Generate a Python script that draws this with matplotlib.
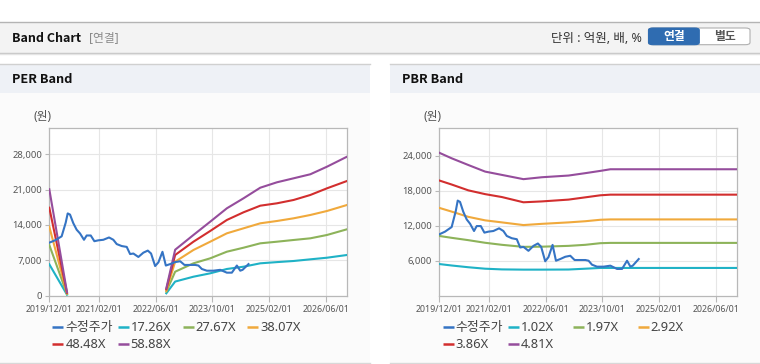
import numpy as np
import matplotlib
matplotlib.use("Agg")
import matplotlib.pyplot as plt
import matplotlib.dates as mdates
from matplotlib.patches import Rectangle, FancyBboxPatch
from matplotlib.lines import Line2D

plt.rcParams['font.family'] = ['Noto Sans', 'Noto Sans CJK KR', 'DejaVu Sans']
BOLD_FAM = ['Noto Sans CJK KR', 'DejaVu Sans']

# ---------------- data ----------------
price_dates = ["2019-12-01", "2020-01-19", "2020-03-16", "2020-04-20", "2020-05-07", "2020-05-27",
               "2020-06-24", "2020-07-23", "2020-08-21", "2020-09-24", "2020-10-17", "2020-11-21",
               "2020-12-22", "2021-01-25", "2021-03-09", "2021-04-27", "2021-06-03", "2021-07-02",
               "2021-08-14", "2021-09-26", "2021-10-25", "2021-11-22", "2022-01-04", "2022-02-16",
               "2022-03-26", "2022-04-23", "2022-05-28", "2022-06-25", "2022-07-30", "2022-08-28",
               "2022-10-04", "2022-11-16", "2022-12-29", "2023-02-04", "2023-03-25", "2023-05-07",
               "2023-06-04", "2023-07-03", "2023-08-15", "2023-10-11", "2023-12-08", "2024-02-03",
               "2024-03-17", "2024-04-29", "2024-05-28", "2024-06-17", "2024-08-07"]
price = [10500, 10960, 11750, 14470, 16290, 16060,
         14360, 13060, 12320, 11070, 11920, 11920,
         10790, 10960, 11070, 11530, 11070, 10220,
         9830, 9660, 8240, 8350, 7670, 8520,
         8930, 8350, 5870, 6600, 8690, 5970,
         6260, 6650, 6820, 6090, 6090, 6090,
         5970, 5290, 4950, 4950, 5120, 4560,
         4560, 5970, 4950, 5120, 6260]

per_dates = ["2019-12-01", "2020-05-01", "2021-06-01", "2022-09-01", "2022-11-16", "2023-04-22",
             "2023-09-13", "2024-02-03", "2024-06-25", "2024-11-16", "2025-04-08", "2025-08-29",
             "2026-01-20", "2026-06-12", "2026-12-01"]
per_labels = ["17.26X", "27.67X", "38.07X", "48.48X", "58.88X"]
per_1726 = [6220, 200, None, 470, 2800, 3760, 4430, 5290, 5740, 6410, 6650, 6870, 7200, 7520, 8060]
per_2767 = [10040, 330, None, 800, 4750, 6410, 7400, 8710, 9500, 10370, 10690, 11030, 11360, 12020, 13150]
per_3807 = [13660, 450, None, 1000, 6730, 9050, 10690, 12350, 13340, 14330, 14790, 15320, 15980, 16770, 17960]
per_4848 = [17420, 580, None, 1270, 8060, 10690, 12810, 14990, 16510, 17820, 18290, 18950, 19940, 21260, 22710]
per_5888 = [21070, 700, None, 1460, 9100, 12020, 14650, 17300, 19280, 21380, 22450, 23240, 24040, 25540, 27520]

pbr_dates = ["2019-12-01", "2020-03-16", "2020-08-06", "2020-12-28", "2021-05-21", "2021-11-22",
             "2022-04-29", "2022-12-14", "2023-05-07", "2023-09-13", "2023-12-08", "2026-12-01"]
pbr_labels = ["1.02X", "1.97X", "2.92X", "3.86X", "4.81X"]
pbr_102 = [5400, 5150, 4850, 4600, 4480, 4440, 4440, 4460, 4600, 4730, 4730, 4730]
pbr_197 = [10220, 9900, 9500, 9050, 8700, 8350, 8380, 8520, 8700, 8980, 9030, 9030]
pbr_292 = [15040, 14400, 13500, 12900, 12550, 12090, 12300, 12550, 12750, 13000, 13060, 13060]
pbr_386 = [19740, 19050, 18050, 17400, 16900, 16000, 16150, 16460, 16850, 17200, 17310, 17310]
pbr_481 = [24500, 23550, 22400, 21270, 20700, 19970, 20300, 20590, 21000, 21390, 21670, 21670]

xtick_dates = ["2019-12-01", "2021-02-01", "2022-06-01", "2023-10-01", "2025-02-01", "2026-06-01"]
x_range = ["2019-12-01", "2026-12-01"]
per_yticks = [0, 7000, 14000, 21000, 28000]
pbr_yticks = [6000, 12000, 18000, 24000]

price_label = "수정주가"
colors = ["#3574c4", "#1fb2c6", "#8db35a", "#f0a93c", "#d22e2e", "#954d9c"]

# ---------------- figure ----------------
W, H = 760, 364
fig = plt.figure(figsize=(W / 100, H / 100), dpi=100)
fig.patch.set_facecolor("white")


def fx(x):
    return x / W


def fy(y):
    return 1 - y / H


def rect(x0, y0, x1, y1, color, z=-10, **kw):
    fig.patches.append(Rectangle((fx(x0), fy(y1)), fx(x1) - fx(x0), fy(y0) - fy(y1),
                                 transform=fig.transFigure, facecolor=color,
                                 edgecolor="none", zorder=z, **kw))


def hline(y, x0, x1, color, lw=1.0, z=-5):
    fig.lines.append(Line2D([fx(x0), fx(x1)], [fy(y), fy(y)], transform=fig.transFigure,
                            color=color, lw=lw, zorder=z))


# header bar
rect(0, 22, W, 53, "#f3f3f3")
hline(22.3, 0, W, "#b4b4b4", 1.0)
hline(53, 0, W, "#c4c4c4", 1.0)
hline(54.2, 0, W, "#e4e4e4", 1.0)
fig.text(fx(12), fy(38), "Band Chart", fontsize=9, fontweight="bold", color="#111",
         va="center", ha="left", family=BOLD_FAM)
fig.text(fx(88.5), fy(38), "[연결]", fontsize=8.5, color="#8a8a8a", va="center", ha="left")
fig.text(fx(642), fy(38), "단위 : 억원, 배, %", fontsize=9, color="#333", va="center", ha="right")

# buttons
btn = FancyBboxPatch((fx(648.5), fy(44.7)), fx(750) - fx(648.5), fy(28) - fy(44.7),
                     boxstyle="round,pad=0,rounding_size=0.006", transform=fig.transFigure,
                     facecolor="white", edgecolor="#b0b0b0", lw=0.8, zorder=2)
fig.patches.append(btn)
btn2 = FancyBboxPatch((fx(648.5), fy(44.7)), fx(699.3) - fx(648.5), fy(28) - fy(44.7),
                      boxstyle="round,pad=0,rounding_size=0.006", transform=fig.transFigure,
                      facecolor="#2f6cb1", edgecolor="#2f6cb1", lw=0.8, zorder=3)
fig.patches.append(btn2)
fig.text(fx(674), fy(36.5), "연결", fontsize=8.5, fontweight="bold", color="white",
         ha="center", va="center", zorder=4, family=BOLD_FAM)
fig.text(fx(725), fy(36.5), "별도", fontsize=8.5, fontweight="bold", color="#555",
         ha="center", va="center", zorder=4, family=BOLD_FAM)

# panels
for (px0, px1, title) in [(0, 370, "PER Band"), (390, 760, "PBR Band")]:
    rect(px0, 64, px1, 93, "#eef1f6")
    rect(px0, 93, px1, 362.5, "#fbfbfb")
    hline(64.2, px0, px1, "#d0d0d0", 1.0)
    hline(363, px0, px1, "#d8d8d8", 1.0)
    fig.text(fx(px0 + 11.5), fy(79.5), title, fontsize=9.2, fontweight="bold", color="#111",
             va="center", ha="left", family=BOLD_FAM)

xt = mdates.datestr2num(xtick_dates)
xr = mdates.datestr2num(x_range)


def style_axes(ax, yticks, ylim):
    ax.set_facecolor("white")
    ax.set_xlim(xr[0], xr[1])
    ax.set_ylim(*ylim)
    ax.set_xticks(xt)
    ax.set_xticklabels([d.replace("-", "/") for d in xtick_dates])
    ax.set_yticks(yticks)
    ax.set_yticklabels([f"{v:,}" for v in yticks])
    ax.grid(True, color="#e6e6e6", lw=0.8)
    ax.set_axisbelow(True)
    for s in ax.spines.values():
        s.set_color("#b8b8b8")
        s.set_linewidth(0.9)
    ax.tick_params(axis="x", length=4, width=0.8, color="#b8b8b8", labelsize=6.4,
                   labelcolor="#555", pad=2.5)
    ax.tick_params(axis="y", length=3, width=0.8, color="#b8b8b8", labelsize=6.8,
                   labelcolor="#555", pad=2)


def to_arr(vals):
    return np.array([np.nan if v is None else v for v in vals], dtype=float)


# PER axes
ax1 = fig.add_axes([fx(49.3), fy(295.7), fx(347) - fx(49.3), fy(128) - fy(295.7)], zorder=1)
style_axes(ax1, per_yticks, (0, 33200))
pdn = mdates.datestr2num(per_dates)
for vals, c in zip([per_1726, per_2767, per_3807, per_4848, per_5888], colors[1:]):
    ax1.plot(pdn, to_arr(vals), color=c, lw=1.5, zorder=3)
ax1.plot(mdates.datestr2num(price_dates), price, color=colors[0], lw=1.5, zorder=4)

# PBR axes
ax2 = fig.add_axes([fx(439.3), fy(295.5), fx(737.3) - fx(439.3), fy(128.3) - fy(295.5)], zorder=1)
style_axes(ax2, pbr_yticks, (0, 28700))
bdn = mdates.datestr2num(pbr_dates)
for vals, c in zip([pbr_102, pbr_197, pbr_292, pbr_386, pbr_481], colors[1:]):
    ax2.plot(bdn, vals, color=c, lw=1.5, zorder=3)
ax2.plot(mdates.datestr2num(price_dates), price, color=colors[0], lw=1.5, zorder=4)

# unit labels
fig.text(fx(33), fy(117), "(원)", fontsize=8.5, color="#555", va="center", ha="left")
fig.text(fx(423), fy(117), "(원)", fontsize=8.5, color="#555", va="center", ha="left")


# legends
def legend(x0, labels):
    cols = [0, 65.3, 130.4, 195]
    rows = [327.3, 344]
    for i, (lab, c) in enumerate(zip(labels, colors)):
        r, k = divmod(i, 4)
        x = x0 + cols[k]
        y = rows[r]
        fig.lines.append(Line2D([fx(x), fx(x + 11)], [fy(y), fy(y)], transform=fig.transFigure,
                                color=c, lw=1.8, solid_capstyle="butt"))
        fig.text(fx(x + 13), fy(y), lab, fontsize=9.3, color="#444", va="center", ha="left")


legend(52.3, [price_label] + per_labels)
legend(442.7, [price_label] + pbr_labels)

fig.savefig("out.png", dpi=100, facecolor="white")
